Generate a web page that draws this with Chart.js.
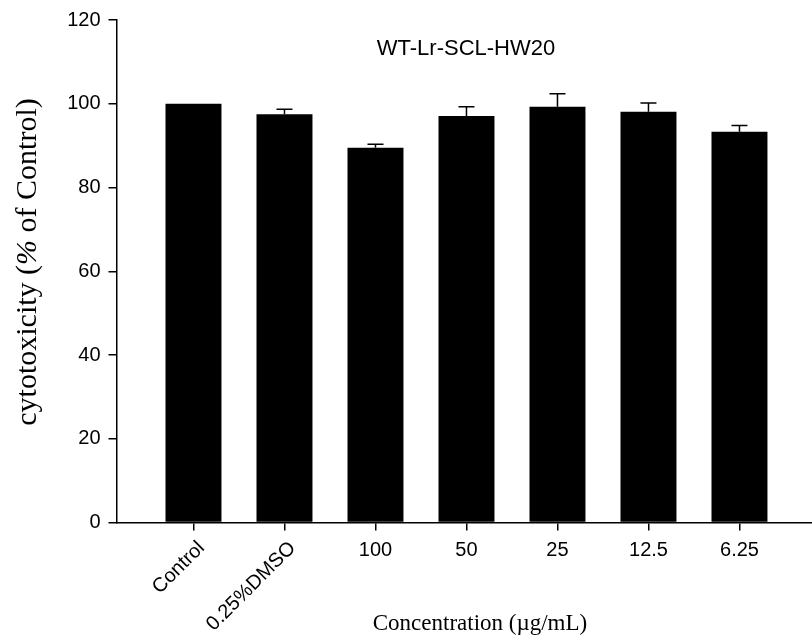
<!DOCTYPE html>
<html lang="en">
<head>
  <meta charset="UTF-8" />
  <title>WT-Lr-SCL-HW20 cytotoxicity</title>
  <script src="https://cdn.jsdelivr.net/npm/chart.js"></script>
  <style>
    html, body { margin: 0; padding: 0; background: #fff; }
    canvas { display: block; }
  </style>
</head>
<body>
  <canvas id="cytoChart" width="812" height="637"></canvas>

  <script>
    // doses tested, mean viability and SD (% of control)
    const groups = ['Control', '0.25%DMSO', '100', '50', '25', '12.5', '6.25'];
    const means = [100, 97.5, 89.5, 97.1, 99.3, 98.1, 93.3];
    const sds = [0, 1.2, 0.8, 2.2, 3.1, 2.1, 1.5];
    const yTicks = [0, 20, 40, 60, 80, 100, 120];
    const rotatedGroups = ['Control', '0.25%DMSO'];

    const SANS = '"Liberation Sans", Arial, sans-serif';
    const SERIF = '"Liberation Serif", "Times New Roman", serif';

    // error bars on top of each column
    const errorBars = {
      id: 'errorBars',
      afterDatasetsDraw(chart) {
        const { ctx, scales: { x, y } } = chart;
        ctx.save();
        ctx.strokeStyle = '#000';
        ctx.lineWidth = 1.5;
        means.forEach((m, i) => {
          if (!sds[i]) return;
          const px = x.getPixelForValue(i);
          const yBar = y.getPixelForValue(m);
          const yTop = y.getPixelForValue(m + sds[i]);
          ctx.beginPath();
          ctx.moveTo(px, yBar);
          ctx.lineTo(px, yTop);
          ctx.moveTo(px - 8, yTop);
          ctx.lineTo(px + 8, yTop);
          ctx.stroke();
        });
        ctx.restore();
      }
    };

    // group labels, plot title and axis titles
    const labelsAndTitles = {
      id: 'labelsAndTitles',
      afterDraw(chart) {
        const { ctx, scales: { x } } = chart;
        ctx.save();
        ctx.fillStyle = '#000';

        ctx.font = '20px ' + SANS;
        groups.forEach((g, i) => {
          const px = x.getPixelForValue(i);
          if (rotatedGroups.includes(g)) {
            ctx.save();
            ctx.translate(px + 8, 545);
            ctx.rotate(-Math.PI / 4);
            ctx.textAlign = 'right';
            ctx.textBaseline = 'middle';
            ctx.fillText(g, 0, 0);
            ctx.restore();
          } else {
            ctx.textAlign = 'center';
            ctx.textBaseline = 'alphabetic';
            ctx.fillText(g, px, 556);
          }
        });

        ctx.font = '22px ' + SANS;
        ctx.textAlign = 'center';
        ctx.textBaseline = 'alphabetic';
        ctx.fillText('WT-Lr-SCL-HW20', 466, 55);

        ctx.font = '23px ' + SERIF;
        ctx.fillText('Concentration (\u00b5g/mL)', 480, 630);

        // y title with an italic percent sign
        const parts = [
          ['cytotoxicity (', 'normal'],
          ['%', 'italic'],
          [' of Control)', 'normal']
        ];
        const size = 30;
        let total = 0;
        parts.forEach(([t, st]) => {
          ctx.font = st + ' ' + size + 'px ' + SERIF;
          total += ctx.measureText(t).width;
        });
        ctx.translate(36, 262);
        ctx.rotate(-Math.PI / 2);
        ctx.textAlign = 'left';
        let cx = -total / 2;
        parts.forEach(([t, st]) => {
          ctx.font = st + ' ' + size + 'px ' + SERIF;
          ctx.fillText(t, cx, 0);
          cx += ctx.measureText(t).width;
        });
        ctx.restore();
      }
    };

    new Chart(document.getElementById('cytoChart'), {
      type: 'bar',
      data: {
        datasets: [{
          data: means.map((m, i) => ({ x: i, y: m })),
          backgroundColor: '#000',
          borderWidth: 0,
          barPercentage: 0.615,
          categoryPercentage: 1
        }]
      },
      options: {
        responsive: false,
        animation: false,
        devicePixelRatio: 1,
        layout: { autoPadding: false, padding: { top: 17, right: 0, left: 0, bottom: 0 } },
        plugins: { legend: { display: false }, tooltip: { enabled: false } },
        scales: {
          x: {
            type: 'linear',
            offset: false,
            min: -0.846,
            max: 6.797,
            afterBuildTicks: s => { s.ticks = groups.map((_, i) => ({ value: i })); },
            afterFit: s => { s.height = 114.5; },
            ticks: { display: false },
            border: { display: true, color: '#000', width: 1.5 },
            grid: { offset: false, drawOnChartArea: false, drawTicks: true, tickLength: 8, color: '#000', lineWidth: 1.5 }
          },
          y: {
            min: 0,
            max: 120,
            afterBuildTicks: s => { s.ticks = yTicks.map(v => ({ value: v })); },
            afterFit: s => { s.width = 116.5; },
            ticks: { color: '#000', font: { family: SANS, size: 20 }, padding: 8 },
            border: { display: true, color: '#000', width: 1.5 },
            grid: { drawOnChartArea: false, drawTicks: true, tickLength: 8, color: '#000', lineWidth: 1.5 }
          }
        }
      },
      plugins: [errorBars, labelsAndTitles]
    });
  </script>
</body>
</html>
